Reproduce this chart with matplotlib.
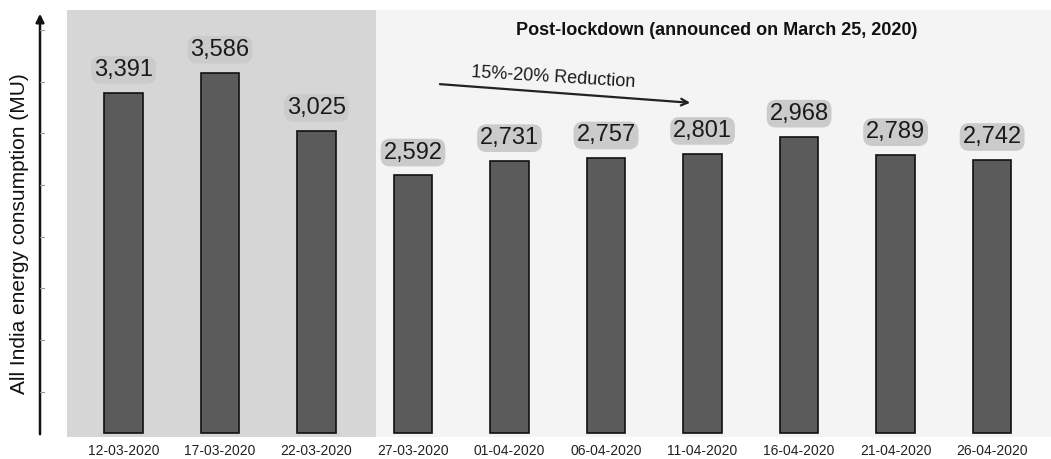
import matplotlib
matplotlib.use('Agg')
from matplotlib import pyplot as plt
from matplotlib.transforms import blended_transform_factory
import numpy as np

plt.rcParams['font.family'] = ['Liberation Sans', 'DejaVu Sans']

# All India energy consumption (MU), 5-day intervals around the lockdown
dates = ['12-03-2020', '17-03-2020', '22-03-2020', '27-03-2020', '01-04-2020',
         '06-04-2020', '11-04-2020', '16-04-2020', '21-04-2020', '26-04-2020']
consumption = [3391, 3586, 3025, 2592, 2731, 2757, 2801, 2968, 2789, 2742]
n_pre = 3  # bars before lockdown (shaded)

x = np.arange(len(dates))

fig = plt.figure(figsize=(10.51, 4.59), dpi=100)
fig.patch.set_facecolor('white')
ax = fig.add_axes([67 / 1051, 22 / 459, 984 / 1051, 427 / 459])
ax.set_facecolor('#f4f4f4')

# pre-lockdown shaded background
ax.axvspan(-0.6, n_pre - 0.38, color='#d6d6d6', zorder=0, lw=0)

base = 100
ax.bar(x, np.array(consumption) - base, bottom=base, width=0.40,
       color='#5b5b5b', edgecolor='#111111', linewidth=1.2, zorder=2)

for xi, v in zip(x, consumption):
    ax.annotate(f'{v:,}', (xi, v), xytext=(0, 16.5), textcoords='offset points',
                ha='center', va='center', fontsize=17, color='#1a1a1a', zorder=3,
                bbox=dict(boxstyle='round,pad=0.12,rounding_size=0.4',
                          fc='#cbcbcb', ec='none'))

ax.set_xlim(-0.585, 9.61)
ax.set_ylim(63, 4192)
ax.set_xticks(x)
ax.set_xticklabels(dates, fontsize=10, color='#222222')
ax.tick_params(axis='x', length=0, pad=5)
ax.set_yticks([])
for s in ax.spines.values():
    s.set_visible(False)

ax.text(6.15, 0.953, 'Post-lockdown (announced on March 25, 2020)',
        transform=blended_transform_factory(ax.transData, ax.transAxes),
        ha='center', va='center', fontsize=13, fontweight='bold', color='#111111')

ax.annotate('', xy=(5.90, 3293), xytext=(3.25, 3477),
            arrowprops=dict(arrowstyle='->', color='#222222', lw=1.6,
                            mutation_scale=12))
ax.text(4.45, 3540, '15%-20% Reduction', ha='center', va='center',
        fontsize=13, rotation=-3.5, color='#1a1a1a')

# y axis drawn as an arrow left of the plot
fig.add_artist(matplotlib.patches.FancyArrowPatch(
    (40 / 1051, 22 / 459), (40 / 1051, 448 / 459), transform=fig.transFigure,
    arrowstyle='-|>', mutation_scale=12, color='#111111', lw=1.8))
tr = blended_transform_factory(fig.transFigure, ax.transData)
for t in np.arange(500, 4001, 500):
    fig.add_artist(plt.Line2D([40 / 1051, 44 / 1051], [t, t], transform=tr,
                              color='#999999', lw=0.8))

fig.text(20 / 1051, 1 - 234 / 459, 'All India energy consumption (MU)',
         rotation=90, ha='center', va='center', fontsize=15, color='#111111')

fig.savefig('out.png', dpi=100)
